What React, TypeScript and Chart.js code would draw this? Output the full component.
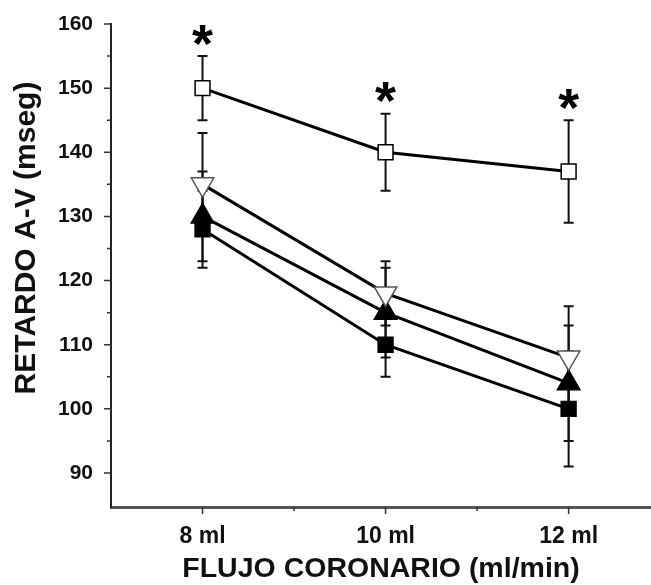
import React, { useEffect, useRef } from "react";
import { Chart, registerables } from "chart.js";

Chart.register(...registerables);

// ---- data ----
const flows = [8, 10, 12];
const xTickLabels = ["8 ml", "10 ml", "12 ml"];
const xMinorTicks = [9, 11];
const yTickValues = [90, 100, 110, 120, 130, 140, 150, 160];
const yMinorTicks = [95, 105, 115, 125, 135, 145, 155];

const openSquare = [150, 140, 137];
const openSquareErr = [5, 6, 8];
const openTriangle = [135, 118, 108];
const openTriangleErr = [8, 5, 8];
const filledTriangle = [130, 115, 104];
const filledTriangleErr = [7, 7, 9];
const filledSquare = [128, 110, 100];
const filledSquareErr = [6, 5, 9];
const significant = [true, true, true];

const xTitle = "FLUJO CORONARIO (ml/min)";
const yTitle = "RETARDO A-V (mseg)";

const FONT = "'Liberation Sans', Arial, Helvetica, sans-serif";

const toPoints = (ys: number[]) => flows.map((x, i) => ({ x, y: ys[i] }));

const errorBarPlugin = {
  id: "errorBars",
  beforeDatasetsDraw(chart: any) {
    const { ctx } = chart;
    const xs = chart.scales.x;
    const ys = chart.scales.y;
    ctx.save();
    ctx.strokeStyle = "#111";
    ctx.lineWidth = 2;
    chart.data.datasets.forEach((ds: any) => {
      const errs: number[] = ds.errors || [];
      ds.data.forEach((p: any, j: number) => {
        const e = errs[j];
        if (e == null) return;
        const x = xs.getPixelForValue(p.x);
        const yt = ys.getPixelForValue(p.y + e);
        const yb = ys.getPixelForValue(p.y - e);
        ctx.beginPath();
        ctx.moveTo(x, yt);
        ctx.lineTo(x, yb);
        ctx.moveTo(x - 5, yt);
        ctx.lineTo(x + 5, yt);
        ctx.moveTo(x - 5, yb);
        ctx.lineTo(x + 5, yb);
        ctx.stroke();
      });
    });
    ctx.restore();
  },
};

const starPlugin = {
  id: "stars",
  afterDatasetsDraw(chart: any) {
    const { ctx } = chart;
    const xs = chart.scales.x;
    const ys = chart.scales.y;
    const ds: any = chart.data.datasets[0];
    ctx.save();
    ctx.font = `bold 100px ${FONT}`;
    const m = ctx.measureText("*");
    const inkW = m.actualBoundingBoxLeft + m.actualBoundingBoxRight;
    const size = (100 * 21) / (inkW || 35);
    ctx.font = `bold ${size}px ${FONT}`;
    const m2 = ctx.measureText("*");
    ctx.fillStyle = "#000";
    ctx.textAlign = "center";
    ctx.textBaseline = "alphabetic";
    ds.data.forEach((p: any, j: number) => {
      if (!significant[j]) return;
      const x = xs.getPixelForValue(p.x);
      const top = ys.getPixelForValue(p.y + ds.errors[j]);
      const cy = top - 21;
      const base = cy + (m2.actualBoundingBoxAscent - m2.actualBoundingBoxDescent) / 2;
      ctx.fillText("*", x, base);
    });
    ctx.restore();
  },
};

const tickMarksPlugin = {
  id: "tickMarks",
  afterDraw(chart: any) {
    const { ctx, chartArea } = chart;
    const xs = chart.scales.x;
    const ys = chart.scales.y;
    ctx.save();
    ctx.strokeStyle = "#333";
    ctx.lineWidth = 1.5;
    ctx.beginPath();
    yTickValues.forEach((v) => {
      const y = ys.getPixelForValue(v);
      ctx.moveTo(chartArea.left - 7, y);
      ctx.lineTo(chartArea.left, y);
    });
    yMinorTicks.forEach((v) => {
      const y = ys.getPixelForValue(v);
      ctx.moveTo(chartArea.left - 4, y);
      ctx.lineTo(chartArea.left, y);
    });
    flows.forEach((v) => {
      const x = xs.getPixelForValue(v);
      ctx.moveTo(x, chartArea.bottom);
      ctx.lineTo(x, chartArea.bottom + 7);
    });
    xMinorTicks.forEach((v) => {
      const x = xs.getPixelForValue(v);
      ctx.moveTo(x, chartArea.bottom);
      ctx.lineTo(x, chartArea.bottom + 4);
    });
    ctx.stroke();

    // y-axis title (rotated), centred a bit above the plot's middle as in the reference
    ctx.font = `bold 30px ${FONT}`;
    ctx.fillStyle = "#111";
    ctx.textAlign = "center";
    ctx.textBaseline = "middle";
    ctx.translate(27, 238);
    ctx.rotate(-Math.PI / 2);
    ctx.fillText(yTitle, 0, 0);
    ctx.restore();
  },
};

export default function App() {
  const ref = useRef<HTMLCanvasElement | null>(null);

  useEffect(() => {
    document.body.style.margin = "0";
    document.body.style.background = "#fff";
    const canvas = ref.current;
    if (!canvas) return;
    const common = {
      showLine: true,
      borderColor: "#000",
      borderWidth: 3,
      tension: 0,
      pointBorderColor: "#000",
      pointBorderWidth: 1.5,
    };
    const chart = new Chart(canvas, {
      type: "line",
      data: {
        datasets: [
          {
            ...common,
            label: "open square",
            data: toPoints(openSquare),
            errors: openSquareErr,
            pointStyle: "rect",
            pointRadius: 10.5,
            pointBackgroundColor: "#fff",
          } as any,
          {
            ...common,
            label: "open triangle",
            data: toPoints(openTriangle),
            errors: openTriangleErr,
            pointStyle: "triangle",
            pointRotation: 180,
            pointRadius: 13,
            pointBackgroundColor: "#fff",
            pointBorderColor: "#555",
          } as any,
          {
            ...common,
            label: "filled triangle",
            data: toPoints(filledTriangle),
            errors: filledTriangleErr,
            pointStyle: "triangle",
            pointRadius: 13,
            pointBackgroundColor: "#000",
          } as any,
          {
            ...common,
            label: "filled square",
            data: toPoints(filledSquare),
            errors: filledSquareErr,
            pointStyle: "rect",
            pointRadius: 10.5,
            pointBackgroundColor: "#000",
          } as any,
        ],
      },
      options: {
        responsive: false,
        animation: false,
        layout: { autoPadding: false, padding: { top: 24, right: 0, left: 0, bottom: 0 } },
        plugins: {
          legend: { display: false },
          tooltip: { enabled: false },
        },
        scales: {
          x: {
            type: "linear",
            min: 7,
            max: 12.9,
            grid: { display: false, drawTicks: false },
            border: { display: true, color: "#555", width: 3 },
            afterBuildTicks: (scale: any) => {
              scale.ticks = flows.map((v) => ({ value: v }));
            },
            afterFit: (scale: any) => {
              scale.height = 78;
              scale.paddingLeft = 0;
              scale.paddingRight = 0;
            },
            ticks: {
              autoSkip: false,
              maxRotation: 0,
              padding: 16,
              color: "#111",
              font: { family: FONT, size: 23, weight: "bold" },
              callback: (_v: any, i: number) => xTickLabels[i],
            },
            title: {
              display: true,
              text: xTitle,
              color: "#111",
              font: { family: FONT, size: 28.5, weight: "bold" },
              padding: { top: 0, bottom: -1 },
            },
          },
          y: {
            type: "linear",
            min: 84.7,
            max: 160,
            grid: { display: false, drawTicks: false },
            border: { display: true, color: "#222", width: 2 },
            afterBuildTicks: (scale: any) => {
              scale.ticks = yTickValues.map((v) => ({ value: v }));
            },
            afterFit: (scale: any) => {
              scale.width = 111;
              scale.paddingTop = 0;
              scale.paddingBottom = 0;
            },
            ticks: {
              padding: 18,
              color: "#111",
              font: { family: FONT, size: 21, weight: "bold" },
            },
            title: { display: false },
          },
        },
      } as any,
      plugins: [errorBarPlugin, starPlugin, tickMarksPlugin],
    });
    return () => chart.destroy();
  }, []);

  return (
    <canvas
      ref={ref}
      width={651}
      height={585}
      style={{ display: "block", width: 651, height: 585 }}
    />
  );
}
